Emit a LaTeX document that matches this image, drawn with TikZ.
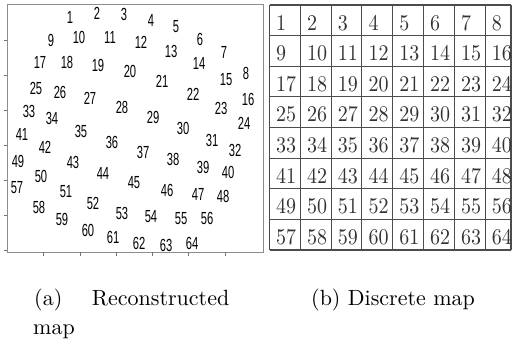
\documentclass[tikz,border=0pt]{standalone}
\usepackage{fontspec}
\usepackage{graphicx}
\newfontfamily\plotfont{Liberation Sans}
\newfontfamily\tenfont[Extension=.otf]{lmroman10-regular}
\newcommand{\narrowdigits}[1]{\scalebox{0.64}[1]{#1}}
\newcommand{\tallnum}[1]{\scalebox{1}[1.12]{#1}}
\begin{document}
\begin{tikzpicture}[x=1pt,y=-1pt,
  frameline/.style={draw=black!45,line width=0.9pt},
  tickline/.style={draw=black!55,line width=0.8pt},
  plotlabel/.style={inner sep=0pt,text=black,font=\plotfont\fontsize{17.5}{17.5}\selectfont},
  gridline/.style={draw=black!70,line width=1.1pt},
  cellnum/.style={anchor=base west,inner sep=0pt,text=black!80,font=\tenfont\fontsize{20}{20}\selectfont},
  captext/.style={anchor=base west,inner sep=0pt,font=\tenfont\fontsize{22}{22}\selectfont}]
\useasboundingbox (0,0) rectangle (514,342);

% ---- left panel: reconstructed positions ----
\draw[frameline] (7.3,4) rectangle (263.3,252);
\foreach \k in {1,...,7}
  \draw[tickline] (7.3,{5+35*\k}) -- (4.3,{5+35*\k});
\foreach \k in {1,...,6}
  \draw[tickline] ({7.3+36.3*\k},252) -- ({7.3+36.3*\k},255.5);

\foreach \n/\px/\py in {
  1/70/17, 2/97/13, 3/124/14, 4/151/20, 5/176/27, 6/200/39, 7/224/52, 8/246/73,
  9/51/40, 10/79/37, 11/110/37, 12/141/42, 13/171/51, 14/199/63, 15/226/80, 16/248/99,
  17/40/62, 18/67/62, 19/98/65, 20/130/71, 21/162/81, 22/193/94, 23/221/108, 24/244/123,
  25/36/88, 26/60/92, 27/90/98, 28/122/107, 29/153/117, 30/183/128, 31/212/140, 32/235/150,
  33/29/111, 34/52/118, 35/81/131, 36/112/142, 37/143/152, 38/173/159, 39/203/167, 40/228/172,
  41/22/134, 42/45/147, 43/73/162, 44/103/173, 45/134/183, 46/167/190, 47/198/194, 48/223/196,
  49/18/161, 50/41/176, 51/66/192, 52/93/203, 53/122/213, 54/151/217, 55/181/219, 56/207/218,
  57/17/188, 58/39/207, 59/62/219, 60/88/230, 61/113/237, 62/139/243, 63/166/245, 64/192/243}
  \node[plotlabel] (p\n) at (\px,\py) {\narrowdigits{\n}};

% ---- right panel: discrete 8x8 map ----
\foreach \c in {0,...,8}
  \draw[gridline] ({min(269.5+30.8*\c,511)},5) -- ({min(269.5+30.8*\c,511)},250);
\foreach \r in {0,...,8}
  \draw[gridline] (269.5,{5+30.625*\r}) -- (511,{5+30.625*\r});
\foreach \r in {0,...,7}
  \foreach \c in {0,...,7}
    \pgfmathtruncatemacro{\v}{8*\r+\c+1}
    \node[cellnum] (g\v) at ({269.5+30.8*\c+6.5},{5+30.625*(\r+1)-5.5}) {\tallnum{\v}};

% ---- captions ----
\node[captext] (capa) at (34,305) {(a)};
\node[captext] (capa2) at (91.7,305) {Reconstructed};
\node[captext] (capa3) at (33,334) {map};
\node[captext] (capb) at (311,305) {(b) Discrete map};
\end{tikzpicture}
\end{document}
